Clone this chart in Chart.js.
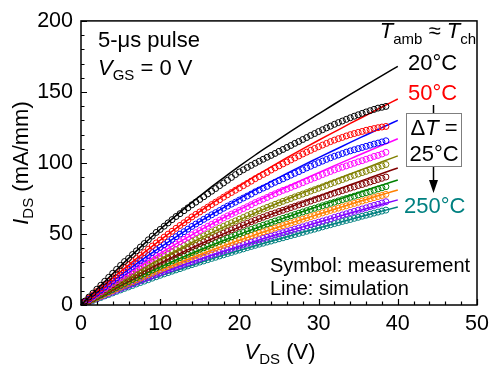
<!DOCTYPE html>
<html>
<head>
<meta charset="utf-8">
<script src="https://cdn.jsdelivr.net/npm/chart.js@4.4.1/dist/chart.umd.min.js"></script>
<style>
  html, body { margin: 0; padding: 0; background: #fff; }
</style>
</head>
<body>
<canvas id="graphe" width="496" height="368"></canvas>
<script>
// tensions V_DS (V)
const vSim = [0, 2, 4, 6, 8, 10, 12, 14, 16, 18, 20, 22, 24, 26, 28, 30, 32, 34, 36, 38, 40];
const vMes = [0, 0.5, 1, 1.5, 2, 2.5, 3, 3.5, 4, 4.5, 5, 5.5, 6, 6.5, 7, 7.5, 8, 8.5, 9, 9.5,
  10, 10.5, 11, 11.5, 12, 12.5, 13, 13.5, 14, 14.5, 15, 15.5, 16, 16.5, 17, 17.5, 18, 18.5, 19, 19.5,
  20, 20.5, 21, 21.5, 22, 22.5, 23, 23.5, 24, 24.5, 25, 25.5, 26, 26.5, 27, 27.5, 28, 28.5, 29, 29.5,
  30, 30.5, 31, 31.5, 32, 32.5, 33, 33.5, 34, 34.5, 35, 35.5, 36, 36.5, 37, 37.5, 38, 38.5];

const temperatures = ['20', '50', '75', '100', '125', '150', '175', '200', '225', '250'];
const couleurs = ['#000000', '#ff0000', '#0000ff', '#ff00ff', '#808000', '#800000', '#008000', '#ff8000', '#8000ff', '#008080'];

// simulation (lignes), I_DS en mA/mm
const sim20 = [0, 11.1, 22.0, 32.8, 43.2, 53.3, 62.9, 72.2, 81.1, 89.5, 97.7, 105.6, 113.1, 120.5, 127.7, 134.6, 141.5, 148.3, 154.9, 161.5, 168];
const sim50 = [0, 9.5, 18.9, 28.1, 37.0, 45.7, 54.0, 61.9, 69.6, 76.9, 83.9, 90.7, 97.3, 103.7, 109.9, 116.0, 121.9, 127.8, 133.6, 139.4, 145];
const sim75 = [0, 8.4, 16.8, 25.0, 33.0, 40.6, 48.0, 55.2, 62.0, 68.5, 74.9, 81.0, 86.9, 92.7, 98.3, 103.7, 109.1, 114.5, 119.7, 124.9, 130];
const sim100 = [0, 7.5, 15.0, 22.3, 29.4, 36.3, 43.0, 49.4, 55.5, 61.4, 67.1, 72.6, 77.9, 83.1, 88.2, 93.2, 98.1, 102.9, 107.7, 112.4, 117];
const sim125 = [0, 6.7, 13.3, 19.8, 26.2, 32.4, 38.3, 44.0, 49.5, 54.8, 59.9, 64.9, 69.7, 74.4, 78.9, 83.4, 87.9, 92.2, 96.5, 100.8, 105];
const sim150 = [0, 6.1, 12.1, 18.1, 23.9, 29.5, 34.9, 40.2, 45.2, 50.1, 54.8, 59.4, 63.8, 68.1, 72.4, 76.5, 80.6, 84.6, 88.6, 92.6, 96.5];
const sim175 = [0, 5.5, 11.0, 16.4, 21.6, 26.7, 31.7, 36.4, 41.0, 45.4, 49.7, 53.9, 58.0, 61.9, 65.8, 69.6, 73.4, 77.1, 80.8, 84.4, 88];
const sim200 = [0, 5.0, 10.0, 14.9, 19.8, 24.4, 28.9, 33.3, 37.5, 41.6, 45.6, 49.4, 53.2, 56.8, 60.4, 63.9, 67.4, 70.9, 74.3, 77.7, 81];
const sim225 = [0, 4.6, 9.1, 13.5, 17.9, 22.1, 26.2, 30.2, 34.1, 37.8, 41.4, 44.9, 48.4, 51.7, 55.0, 58.3, 61.5, 64.7, 67.8, 70.9, 74];
const sim250 = [0, 4.2, 8.4, 12.5, 16.6, 20.5, 24.3, 28.0, 31.6, 35.1, 38.4, 41.7, 44.9, 48.1, 51.2, 54.2, 57.2, 60.2, 63.2, 66.1, 69];

// mesures (symboles)
const mes20 = [0, 2.8, 5.6, 8.3, 11.1, 13.9, 16.7, 19.5, 22.3, 25.1, 27.9, 30.6, 32.8, 35.5, 38.1, 40.8, 43.3, 45.9, 48.5, 51.1,
  53.2, 55.5, 57.8, 60.1, 62.3, 64.3, 66.4, 68.4, 70.5, 72.4, 74.3, 76.2, 78.2, 80.1, 82.0, 84.0, 85.9, 87.8, 89.8, 91.8,
  93.7, 95.2, 96.8, 98.3, 99.8, 101.2, 102.6, 104.0, 105.3, 106.7, 108.2, 109.5, 110.9, 112.3, 113.8, 115.1, 116.5, 117.9, 119.4, 120.7,
  122.1, 123.4, 124.7, 125.9, 127.2, 128.4, 129.5, 130.7, 131.8, 132.9, 133.9, 134.9, 135.9, 136.8, 137.7, 138.6, 139.2, 139.8];
const mes50 = [0, 2.4, 4.8, 7.1, 9.5, 11.9, 14.3, 16.7, 19.1, 21.5, 23.9, 26.2, 28.2, 30.5, 32.8, 35.0, 36.9, 39.2, 41.5, 43.7,
  45.7, 47.8, 49.9, 51.9, 54.0, 56.0, 57.9, 59.9, 62.0, 63.8, 65.5, 67.2, 68.9, 70.7, 72.4, 74.1, 75.9, 77.6, 79.2, 80.8,
  82.4, 84.0, 85.6, 87.2, 88.9, 90.4, 91.9, 93.3, 95.0, 96.5, 97.9, 99.3, 100.7, 102.1, 103.5, 104.9, 106.3, 107.6, 108.9, 110.2,
  111.4, 112.6, 113.8, 115.0, 116.1, 117.1, 118.0, 119.0, 119.9, 120.7, 121.5, 122.2, 123.0, 123.6, 124.2, 124.8, 125.3, 125.7];
const mes75 = [0, 2.1, 4.2, 6.3, 8.4, 10.6, 12.7, 14.9, 17.0, 19.1, 21.2, 23.3, 25.1, 27.1, 29.2, 31.2, 32.8, 34.8, 36.9, 38.9,
  40.6, 42.5, 44.4, 46.2, 48.1, 49.9, 51.6, 53.4, 55.3, 57.0, 58.6, 60.3, 61.9, 63.5, 65.0, 66.5, 68.1, 69.6, 71.0, 72.4,
  73.9, 75.3, 76.7, 78.1, 79.7, 81.0, 82.3, 83.5, 85.1, 86.4, 87.6, 88.8, 90.1, 91.4, 92.7, 93.9, 95.2, 96.5, 97.7, 98.9,
  100.2, 101.3, 102.5, 103.6, 104.7, 105.6, 106.6, 107.6, 108.5, 109.3, 110.1, 110.9, 111.7, 112.5, 113.3, 114.0, 114.8, 115.6];
const mes100 = [0, 1.9, 3.8, 5.6, 7.5, 9.4, 11.4, 13.3, 15.2, 17.1, 19.0, 20.8, 22.4, 24.2, 26.0, 27.8, 29.3, 31.1, 32.9, 34.7,
  36.3, 38.0, 39.7, 41.3, 43.0, 44.6, 46.2, 47.7, 49.4, 50.9, 52.4, 53.9, 55.4, 56.8, 58.3, 59.7, 61.3, 62.7, 64.0, 65.3,
  66.6, 67.9, 69.2, 70.6, 72.1, 73.3, 74.5, 75.7, 77.1, 78.3, 79.5, 80.7, 81.6, 82.8, 83.9, 85.0, 86.1, 87.3, 88.4, 89.5,
  90.6, 91.8, 92.9, 94.0, 95.1, 96.1, 97.0, 97.9, 98.9, 99.8, 100.8, 101.6, 102.6, 103.5, 104.6, 105.3, 106.3, 107.5];
const mes125 = [0, 1.7, 3.4, 5.0, 6.7, 8.4, 10.1, 11.8, 13.5, 15.2, 16.9, 18.5, 20.2, 21.8, 23.4, 25.0, 26.6, 28.2, 29.9, 31.5,
  33.1, 34.6, 36.1, 37.6, 39.1, 40.5, 41.9, 43.3, 44.7, 46.0, 47.4, 48.7, 50.0, 51.4, 52.7, 54.1, 55.4, 56.7, 57.9, 59.2,
  60.4, 61.6, 62.9, 64.1, 65.3, 66.4, 67.6, 68.7, 69.8, 70.9, 71.9, 73.0, 74.0, 75.0, 76.1, 77.1, 78.1, 79.1, 80.2, 81.2,
  82.2, 83.2, 84.3, 85.3, 86.3, 87.3, 88.3, 89.3, 90.3, 91.3, 92.2, 93.2, 94.1, 95.1, 96.0, 97.0, 97.9, 98.9];
const mes150 = [0, 1.5, 3.1, 4.6, 6.1, 7.7, 9.2, 10.8, 12.3, 13.8, 15.4, 16.9, 18.4, 19.9, 21.4, 22.8, 24.3, 25.8, 27.3, 28.7,
  30.2, 31.6, 32.9, 34.3, 35.6, 36.9, 38.2, 39.5, 40.8, 42.0, 43.3, 44.5, 45.7, 46.9, 48.2, 49.4, 50.6, 51.8, 52.9, 54.1,
  55.2, 56.3, 57.5, 58.6, 59.7, 60.8, 61.8, 62.9, 63.9, 64.8, 65.8, 66.7, 67.6, 68.6, 69.5, 70.5, 71.3, 72.3, 73.2, 74.2,
  75.1, 76.0, 76.9, 77.9, 78.8, 79.6, 80.5, 81.4, 82.3, 83.1, 84.1, 84.8, 85.7, 86.6, 87.5, 88.4, 89.2, 90.1];
const mes175 = [0, 1.4, 2.8, 4.1, 5.5, 6.9, 8.3, 9.7, 11.1, 12.5, 13.9, 15.2, 16.6, 18.0, 19.3, 20.7, 22.0, 23.3, 24.7, 26.0,
  27.3, 28.5, 29.8, 31.0, 32.2, 33.4, 34.6, 35.7, 36.9, 38.0, 39.2, 40.3, 41.4, 42.5, 43.7, 44.8, 45.9, 47.0, 48.0, 49.1,
  50.1, 51.1, 52.2, 53.2, 54.2, 55.2, 56.2, 57.1, 58.1, 59.1, 60.0, 61.0, 61.9, 62.8, 63.7, 64.6, 65.5, 66.4, 67.3, 68.1,
  69.0, 69.9, 70.7, 71.6, 72.4, 73.3, 74.2, 75.0, 75.8, 76.6, 77.5, 78.3, 79.1, 79.9, 80.8, 81.7, 82.5, 83.3];
const mes200 = [0, 1.3, 2.5, 3.8, 5.0, 6.3, 7.6, 8.8, 10.1, 11.4, 12.7, 13.9, 15.2, 16.4, 17.7, 18.9, 20.1, 21.3, 22.5, 23.7,
  24.9, 26.1, 27.2, 28.4, 29.5, 30.6, 31.7, 32.7, 33.8, 34.8, 35.9, 36.9, 37.9, 38.9, 40.0, 41.0, 42.0, 43.0, 44.0, 44.9,
  45.9, 46.9, 47.8, 48.8, 49.7, 50.6, 51.5, 52.4, 53.3, 54.2, 55.1, 55.9, 56.8, 57.7, 58.6, 59.5, 60.4, 61.3, 62.2, 63.0,
  63.9, 64.8, 65.7, 66.6, 67.4, 68.2, 69.0, 69.8, 70.7, 71.5, 72.3, 73.2, 74.0, 74.8, 75.6, 76.4, 77.1, 77.9];
const mes225 = [0, 1.2, 2.3, 3.5, 4.6, 5.8, 6.9, 8.1, 9.2, 10.4, 11.5, 12.7, 13.8, 14.9, 16.0, 17.1, 18.2, 19.3, 20.4, 21.5,
  22.6, 23.6, 24.7, 25.7, 26.7, 27.7, 28.7, 29.6, 30.6, 31.6, 32.5, 33.5, 34.4, 35.3, 36.3, 37.2, 38.1, 39.0, 39.9, 40.8,
  41.7, 42.6, 43.5, 44.3, 45.2, 46.0, 46.9, 47.7, 48.5, 49.3, 50.1, 50.9, 51.7, 52.5, 53.4, 54.2, 55.0, 55.8, 56.7, 57.5,
  58.3, 59.1, 59.9, 60.7, 61.7, 62.5, 63.4, 64.2, 65.1, 65.9, 66.8, 67.6, 68.4, 69.3, 70.1, 70.9, 71.8, 72.7];
const mes250 = [0, 1.1, 2.1, 3.2, 4.2, 5.3, 6.4, 7.4, 8.5, 9.6, 10.6, 11.7, 12.7, 13.7, 14.8, 15.8, 16.8, 17.8, 18.9, 19.9,
  20.9, 21.9, 22.8, 23.8, 24.7, 25.6, 26.6, 27.5, 28.4, 29.3, 30.2, 31.0, 31.9, 32.8, 33.6, 34.5, 35.3, 36.2, 37.0, 37.9,
  38.7, 39.5, 40.4, 41.2, 42.0, 42.8, 43.5, 44.3, 45.0, 45.8, 46.6, 47.3, 48.1, 48.9, 49.6, 50.4, 51.1, 51.9, 52.7, 53.4,
  54.2, 55.0, 55.8, 56.5, 57.3, 58.0, 58.8, 59.5, 60.2, 61.0, 61.7, 62.5, 63.2, 63.9, 64.7, 65.4, 66.1, 66.8];

const simulations = [sim20, sim50, sim75, sim100, sim125, sim150, sim175, sim200, sim225, sim250];
const mesures = [mes20, mes50, mes75, mes100, mes125, mes150, mes175, mes200, mes225, mes250];

const ticksX = [0, 10, 20, 30, 40, 50];
const ticksY = [0, 50, 100, 150, 200];

const POLICE = '"Liberation Sans", Arial, Helvetica, sans-serif';

function police(taille, italique) {
  return (italique ? 'italic ' : '') + taille + 'px ' + POLICE;
}

// texte avec indices : morceaux = [texte, taille, italique, decalage vertical]
function texteRiche(ctx, morceaux, x, y, align) {
  let largeur = 0;
  morceaux.forEach(m => {
    ctx.font = police(m[1], m[2]);
    largeur += ctx.measureText(m[0]).width;
  });
  let cx = align === 'right' ? x - largeur : align === 'center' ? x - largeur / 2 : x;
  morceaux.forEach(m => {
    ctx.font = police(m[1], m[2]);
    ctx.fillText(m[0], cx, y + (m[3] || 0));
    cx += ctx.measureText(m[0]).width;
  });
}

const datasets = [];
temperatures.forEach((t, i) => {
  datasets.push({
    label: t + ' mes',
    data: mesures[i].map((v, j) => ({ x: vMes[j], y: v })),
    showLine: false,
    pointStyle: 'circle',
    pointRadius: 3,
    pointBorderWidth: 1,
    pointBorderColor: couleurs[i],
    pointBackgroundColor: 'rgba(0,0,0,0)'
  });
  datasets.push({
    label: t + ' sim',
    data: simulations[i].map((v, j) => ({ x: vSim[j], y: v })),
    showLine: true,
    borderColor: couleurs[i],
    borderWidth: 1.5,
    pointRadius: 0,
    cubicInterpolationMode: 'monotone',
    clip: false
  });
});

const decor = {
  id: 'decor',
  afterDraw(chart) {
    const ctx = chart.ctx;
    const a = chart.chartArea;
    const sx = chart.scales.x, sy = chart.scales.y;
    ctx.save();

    // cadre
    ctx.strokeStyle = '#000';
    ctx.lineWidth = 1.5;
    ctx.strokeRect(a.left, a.top, a.right - a.left, a.bottom - a.top);

    // graduations vers l'intérieur
    ctx.lineWidth = 1.2;
    ctx.beginPath();
    for (let v = 0; v <= 50; v += 2) {
      const px = Math.round(sx.getPixelForValue(v)) + 0.5;
      const l = v % 10 === 0 ? 6 : 3.5;
      ctx.moveTo(px, a.bottom);
      ctx.lineTo(px, a.bottom - l);
    }
    for (let v = 0; v <= 200; v += 10) {
      const py = Math.round(sy.getPixelForValue(v)) + 0.5;
      const l = v % 50 === 0 ? 6 : 3.5;
      ctx.moveTo(a.left, py);
      ctx.lineTo(a.left + l, py);
    }
    ctx.stroke();

    ctx.fillStyle = '#000';
    ctx.textBaseline = 'alphabetic';

    // titres des axes
    texteRiche(ctx, [['V', 22, true], ['DS', 15, false, 5], [' (V)', 22]], 280, 359, 'center');
    ctx.save();
    ctx.translate(28, 163);
    ctx.rotate(-Math.PI / 2);
    texteRiche(ctx, [['I', 22, true], ['DS', 15, false, 5], [' (mA/mm)', 22]], 0, 0, 'center');
    ctx.restore();

    // annotations
    texteRiche(ctx, [['5-\u03bcs pulse', 22]], 98, 47, 'left');
    texteRiche(ctx, [['V', 22, true], ['GS', 15, false, 5], [' = 0 V', 22]], 98, 75, 'left');
    texteRiche(ctx, [['T', 22, true], ['amb', 15, false, 6], [' \u2248 ', 22], ['T', 22, true], ['ch', 15, false, 6]], 476, 38, 'right');

    texteRiche(ctx, [['20\u00b0C', 22]], 408, 70, 'left');
    ctx.fillStyle = couleurs[1];
    texteRiche(ctx, [['50\u00b0C', 22]], 408, 100, 'left');
    ctx.fillStyle = couleurs[9];
    texteRiche(ctx, [['250\u00b0C', 22]], 404, 213, 'left');

    // boîte ΔT
    ctx.strokeStyle = '#000';
    ctx.lineWidth = 1.5;
    ctx.beginPath();
    ctx.moveTo(433.5, 105);
    ctx.lineTo(433.5, 113);
    ctx.moveTo(433.5, 167);
    ctx.lineTo(433.5, 182);
    ctx.stroke();
    ctx.fillStyle = '#000';
    ctx.beginPath();
    ctx.moveTo(429, 180);
    ctx.lineTo(438, 180);
    ctx.lineTo(433.5, 193);
    ctx.closePath();
    ctx.fill();

    ctx.fillStyle = '#fff';
    ctx.fillRect(406, 113, 56, 54);
    ctx.strokeStyle = '#7f7f7f';
    ctx.lineWidth = 1;
    ctx.strokeRect(406.5, 113.5, 55, 53);
    ctx.fillStyle = '#000';
    texteRiche(ctx, [['\u0394', 22], ['T', 22, true], [' =', 22]], 434, 135, 'center');
    texteRiche(ctx, [['25\u00b0C', 22]], 434, 161, 'center');

    texteRiche(ctx, [['Symbol: measurement', 20]], 270, 272, 'left');
    texteRiche(ctx, [['Line: simulation', 20]], 270, 295, 'left');

    ctx.restore();
  }
};

new Chart(document.getElementById('graphe'), {
  type: 'scatter',
  data: { datasets: datasets },
  plugins: [decor],
  options: {
    responsive: false,
    animation: false,
    devicePixelRatio: 1,
    layout: { padding: { top: 17, right: 19, left: 0, bottom: 0 } },
    plugins: { legend: { display: false }, tooltip: { enabled: false } },
    scales: {
      x: {
        type: 'linear', min: 0, max: 50,
        grid: { display: false, drawTicks: false },
        border: { display: false },
        afterBuildTicks: s => { s.ticks = ticksX.map(v => ({ value: v })); },
        ticks: { font: { family: POLICE, size: 21.5 }, color: '#000', padding: 6, maxRotation: 0 },
        afterFit: s => { s.height = 63; }
      },
      y: {
        type: 'linear', min: 0, max: 200,
        grid: { display: false, drawTicks: false },
        border: { display: false },
        afterBuildTicks: s => { s.ticks = ticksY.map(v => ({ value: v })); },
        ticks: { font: { family: POLICE, size: 21.5 }, color: '#000', padding: 8 },
        afterFit: s => { s.width = 81; }
      }
    }
  }
});
</script>
</body>
</html>
